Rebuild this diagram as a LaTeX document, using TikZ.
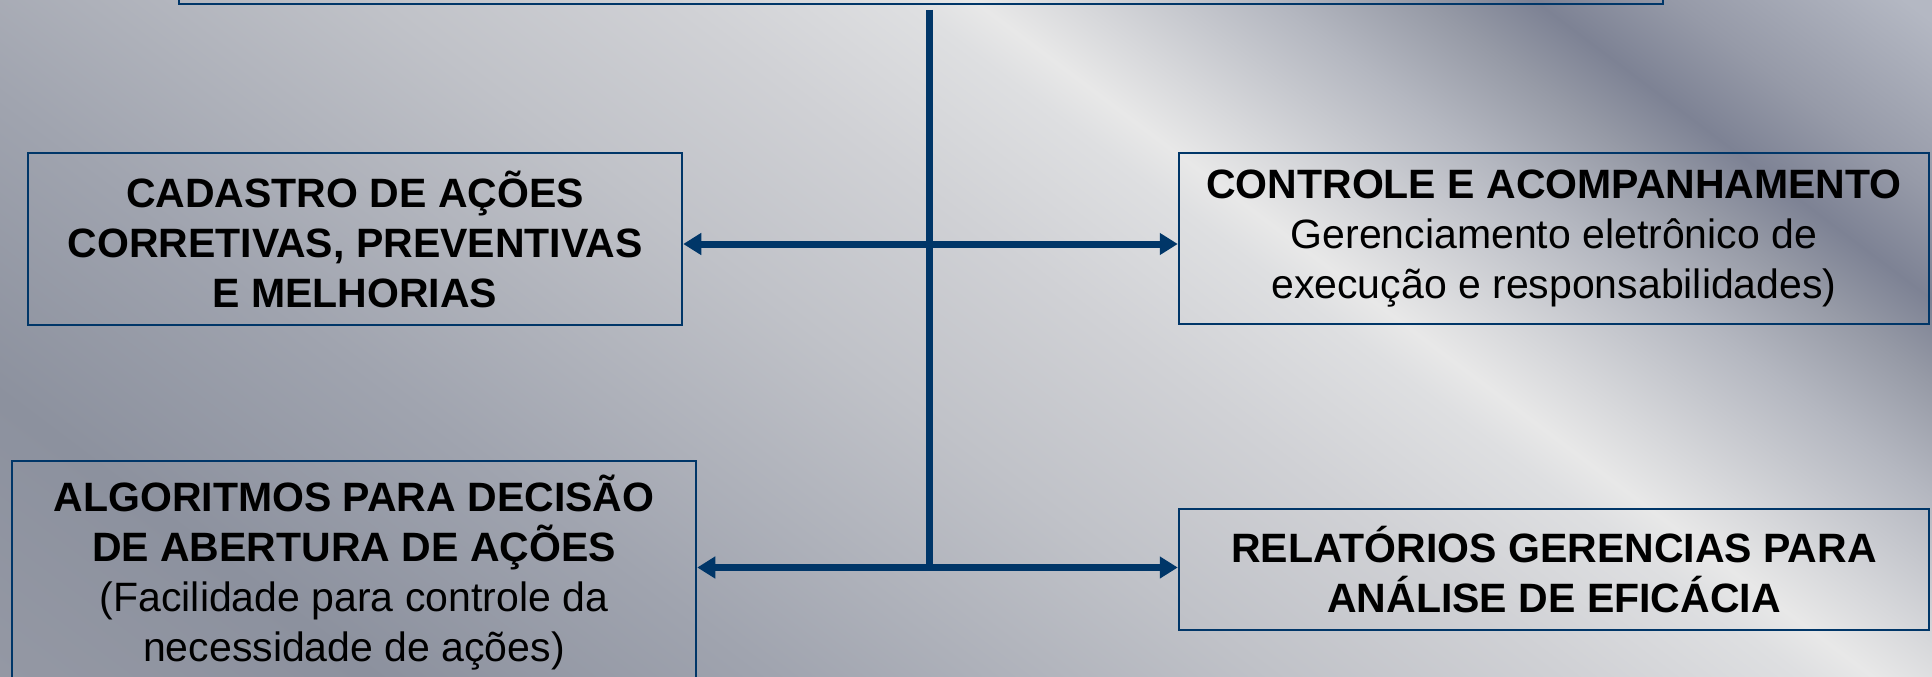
\documentclass[tikz,border=0pt]{standalone}
\usepackage{fontspec}
\setmainfont{Liberation Sans}
\usetikzlibrary{arrows.meta}
\definecolor{lineblue}{RGB}{0,54,104}
\definecolor{bgA}{RGB}{148,152,164}
\definecolor{bgB}{RGB}{140,145,158}
\definecolor{bgC}{RGB}{160,164,175}
\definecolor{bgD}{RGB}{192,194,200}
\definecolor{bgE}{RGB}{208,209,213}
\definecolor{bgF}{RGB}{222,223,225}
\definecolor{bgG}{RGB}{232,232,232}
\definecolor{bgH}{RGB}{215,216,219}
\definecolor{bgI}{RGB}{180,183,192}
\definecolor{bgJ}{RGB}{150,154,166}
\definecolor{bgK}{RGB}{125,130,148}
\definecolor{bgL}{RGB}{150,154,168}
\definecolor{bgM}{RGB}{180,184,195}
\pgfdeclarehorizontalshading{metal}{100bp}{color(0bp)=(bgA); color(25bp)=(bgA); color(31.62bp)=(bgB); color(38.68bp)=(bgC); color(47.48bp)=(bgD); color(52.77bp)=(bgE); color(56.83bp)=(bgF); color(58.07bp)=(bgG); color(59.83bp)=(bgH); color(63.37bp)=(bgI); color(66.01bp)=(bgJ); color(67.96bp)=(bgK); color(70.43bp)=(bgL); color(74.52bp)=(bgM); color(100bp)=(bgM)}
\begin{document}
\begin{tikzpicture}[x=1pt,y=-1pt,
  box/.style={draw=lineblue, line width=2.5pt, inner sep=0pt, align=center,
    font=\fontsize{41}{50}\selectfont, text=black},
  conn/.style={draw=lineblue, line width=7pt},
  arr/.style={conn, -{Triangle[length=18pt,width=21pt]}}]
\useasboundingbox (0,0) rectangle (1932,677);
\begin{scope}
\clip (0,0) rectangle (1932,677);
\begin{scope}[transform canvas={xslant=-1.33}]
\shade[shading=metal] (-900,0) rectangle (1932,677);
\end{scope}
\node[box, minimum width=1484pt, minimum height=128pt] (top) at (921,-60) {};
\node[box, minimum width=654pt, minimum height=172pt] (cad) at (355,239)
  {\bfseries CADASTRO DE AÇÕES\\\bfseries CORRETIVAS, PREVENTIVAS\\\bfseries E MELHORIAS};
\node[box, minimum width=750pt, minimum height=171pt] (ctl) at (1554,238.5)
  {\bfseries CONTROLE E ACOMPANHAMENTO\\Gerenciamento eletrônico de\\execução e responsabilidades)};
\node[box, minimum width=684pt, minimum height=224pt] (alg) at (354,573)
  {\bfseries ALGORITMOS PARA DECISÃO\\\bfseries DE ABERTURA DE AÇÕES\\(Facilidade para controle da\\necessidade de ações)};
\node[box, minimum width=750pt, minimum height=121pt] (rel) at (1554,569.5)
  {\bfseries RELATÓRIOS GERENCIAS PARA\\\bfseries ANÁLISE DE EFICÁCIA};
\coordinate (vtop) at (929,10);
\coordinate (jup) at (929,244);
\coordinate (jlow) at (929,567.5);
\draw[conn] (vtop) -- (jlow);
\draw[arr] (jup) -- (jup -| cad.east);
\draw[arr] (jup) -- (jup -| ctl.west);
\draw[arr] (jlow) -- (jlow -| alg.east);
\draw[arr] (jlow) -- (jlow -| rel.west);
\end{scope}
\end{tikzpicture}
\end{document}
